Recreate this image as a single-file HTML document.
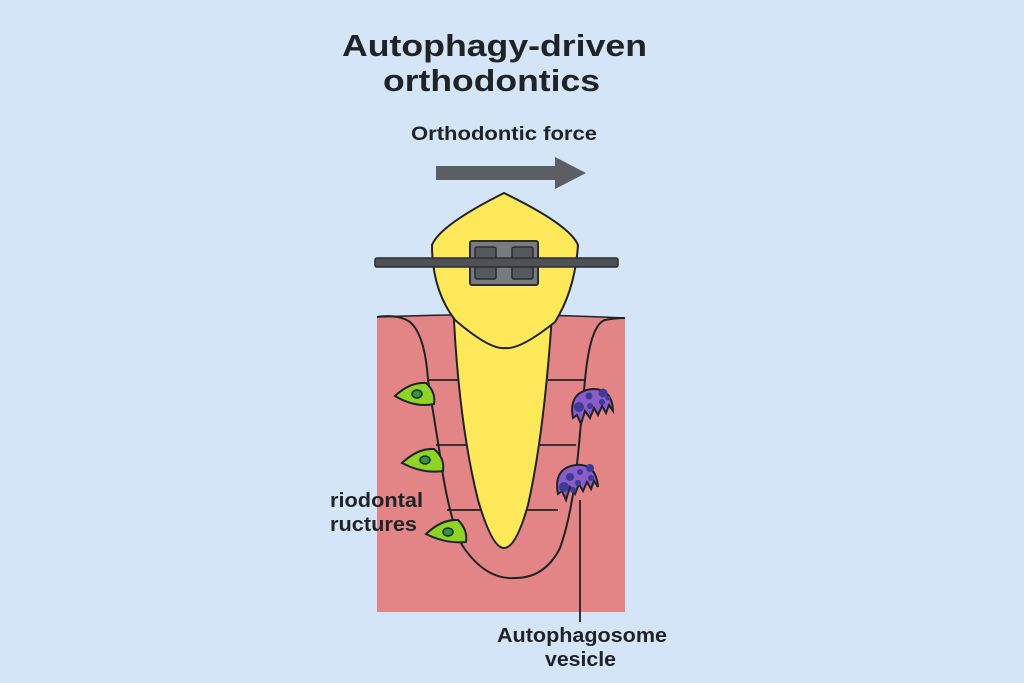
<!DOCTYPE html>
<html><head><meta charset="utf-8"><style>
html,body{margin:0;padding:0;background:#d3e5f7;}
svg{display:block}
text{font-family:"Liberation Sans",sans-serif;font-weight:bold;fill:#1f2326}
</style></head><body>
<svg width="1024" height="683" viewBox="0 0 1024 683" xmlns="http://www.w3.org/2000/svg">
<rect width="1024" height="683" fill="#d3e5f7"/>
<text x="342" y="56" font-size="31" textLength="305" lengthAdjust="spacingAndGlyphs">Autophagy-driven</text>
<text x="383" y="91" font-size="31" textLength="217" lengthAdjust="spacingAndGlyphs">orthodontics</text>
<text x="411" y="140" font-size="19" textLength="186" lengthAdjust="spacingAndGlyphs">Orthodontic force</text>
<polygon points="436,166 555,166 555,157 586,173 555,189 555,180 436,180" fill="#5b5f64"/>
<path d="M377,316 Q500,312 625,318 L625,612 L377,612 Z" fill="#e38587"/>
<path d="M377,317 Q398,314 410,322 Q425,335 428,380 L440,455 Q448,515 462,545 Q485,580 515,578 Q545,578 560,548 Q572,515 578,455 L585,380 Q590,325 605,320 Q615,318 625,318" fill="none" stroke="#1f2326" stroke-width="2"/>
<path d="M377,317 Q500,312 625,318" fill="none" stroke="#1f2326" stroke-width="1.5"/>
<g stroke="#1f2326" stroke-width="1.8">
<line x1="428" y1="380" x2="461" y2="380"/>
<line x1="436" y1="445" x2="467" y2="445"/>
<line x1="447" y1="510" x2="480" y2="510"/>
<line x1="548" y1="380" x2="584" y2="380"/>
<line x1="540" y1="445" x2="576" y2="445"/>
<line x1="527" y1="510" x2="558" y2="510"/>
</g>
<path d="M453,300 Q458,420 478,500 Q492,548 504,548 Q516,548 528,505 Q545,430 553,300 Z" fill="#fde85a" stroke="#1f2326" stroke-width="2"/>
<path d="M504,193 Q440,225 432,245 Q432,290 455,320 Q490,350 505,348 Q520,350 555,322 Q575,290 578,245 Q570,225 504,193 Z" fill="#fde85a" stroke="#1f2326" stroke-width="2"/>
<rect x="470" y="241" width="68" height="44" rx="2" fill="#777b80" stroke="#2a2d31" stroke-width="2"/>
<rect x="475" y="247" width="21" height="32" rx="2" fill="#55595e" stroke="#2a2d31" stroke-width="1.5"/>
<rect x="512" y="247" width="21" height="32" rx="2" fill="#55595e" stroke="#2a2d31" stroke-width="1.5"/>
<rect x="375" y="258" width="243" height="9" rx="2" fill="#4e5257" stroke="#2a2d31" stroke-width="1.5"/>
<g fill="#8fd424" stroke="#1f2326" stroke-width="2">
<path d="M395,396 Q410,382 426,383 Q436,392 434,404 Q415,408 395,396 Z"/>
<path d="M402,463 Q418,448 434,449 Q445,458 443,471 Q423,474 402,463 Z"/>
<path d="M426,534 Q442,519 458,520 Q468,530 466,542 Q446,544 426,534 Z"/>
</g>
<g fill="#2d9a36" stroke="#1f2326" stroke-width="1.5">
<ellipse cx="417" cy="394" rx="5" ry="4"/>
<ellipse cx="425" cy="460" rx="5" ry="4"/>
<ellipse cx="448" cy="532" rx="5" ry="4"/>
</g>
<g fill="#8a5cc8" stroke="#1f2326" stroke-width="2">
<path d="M573,418 Q568,392 592,389 Q612,388 613,411 L609,405 L606,413 L602,406 L598,415 L594,408 L590,418 L585,411 L581,424 L577,415 Z"/>
<path d="M558,494 Q553,468 576,465 Q596,463 598,487 L594,481 L591,489 L587,482 L583,491 L579,484 L575,494 L570,487 L566,500 L562,491 Z"/>
</g>
<g fill="#3e3a99">
<circle cx="579" cy="407" r="5"/><circle cx="589" cy="396" r="3.5"/><circle cx="603" cy="393" r="4.5"/><circle cx="590" cy="406" r="3"/><circle cx="602" cy="402" r="3"/><circle cx="608" cy="398" r="2.5"/>
<circle cx="564" cy="487" r="5"/><circle cx="570" cy="477" r="4"/><circle cx="578" cy="483" r="3"/><circle cx="580" cy="472" r="3"/><circle cx="590" cy="468" r="4"/><circle cx="591" cy="478" r="3"/><circle cx="573" cy="490" r="3"/>
</g>
<line x1="580" y1="500" x2="580" y2="622" stroke="#1f2326" stroke-width="1.8"/>
<text x="330" y="507" font-size="20" textLength="93" lengthAdjust="spacingAndGlyphs">riodontal</text>
<text x="330" y="531" font-size="20" textLength="87" lengthAdjust="spacingAndGlyphs">ructures</text>
<text x="497" y="642" font-size="20" textLength="170" lengthAdjust="spacingAndGlyphs">Autophagosome</text>
<text x="545" y="666" font-size="20" textLength="71" lengthAdjust="spacingAndGlyphs">vesicle</text>
</svg>
</body></html>
